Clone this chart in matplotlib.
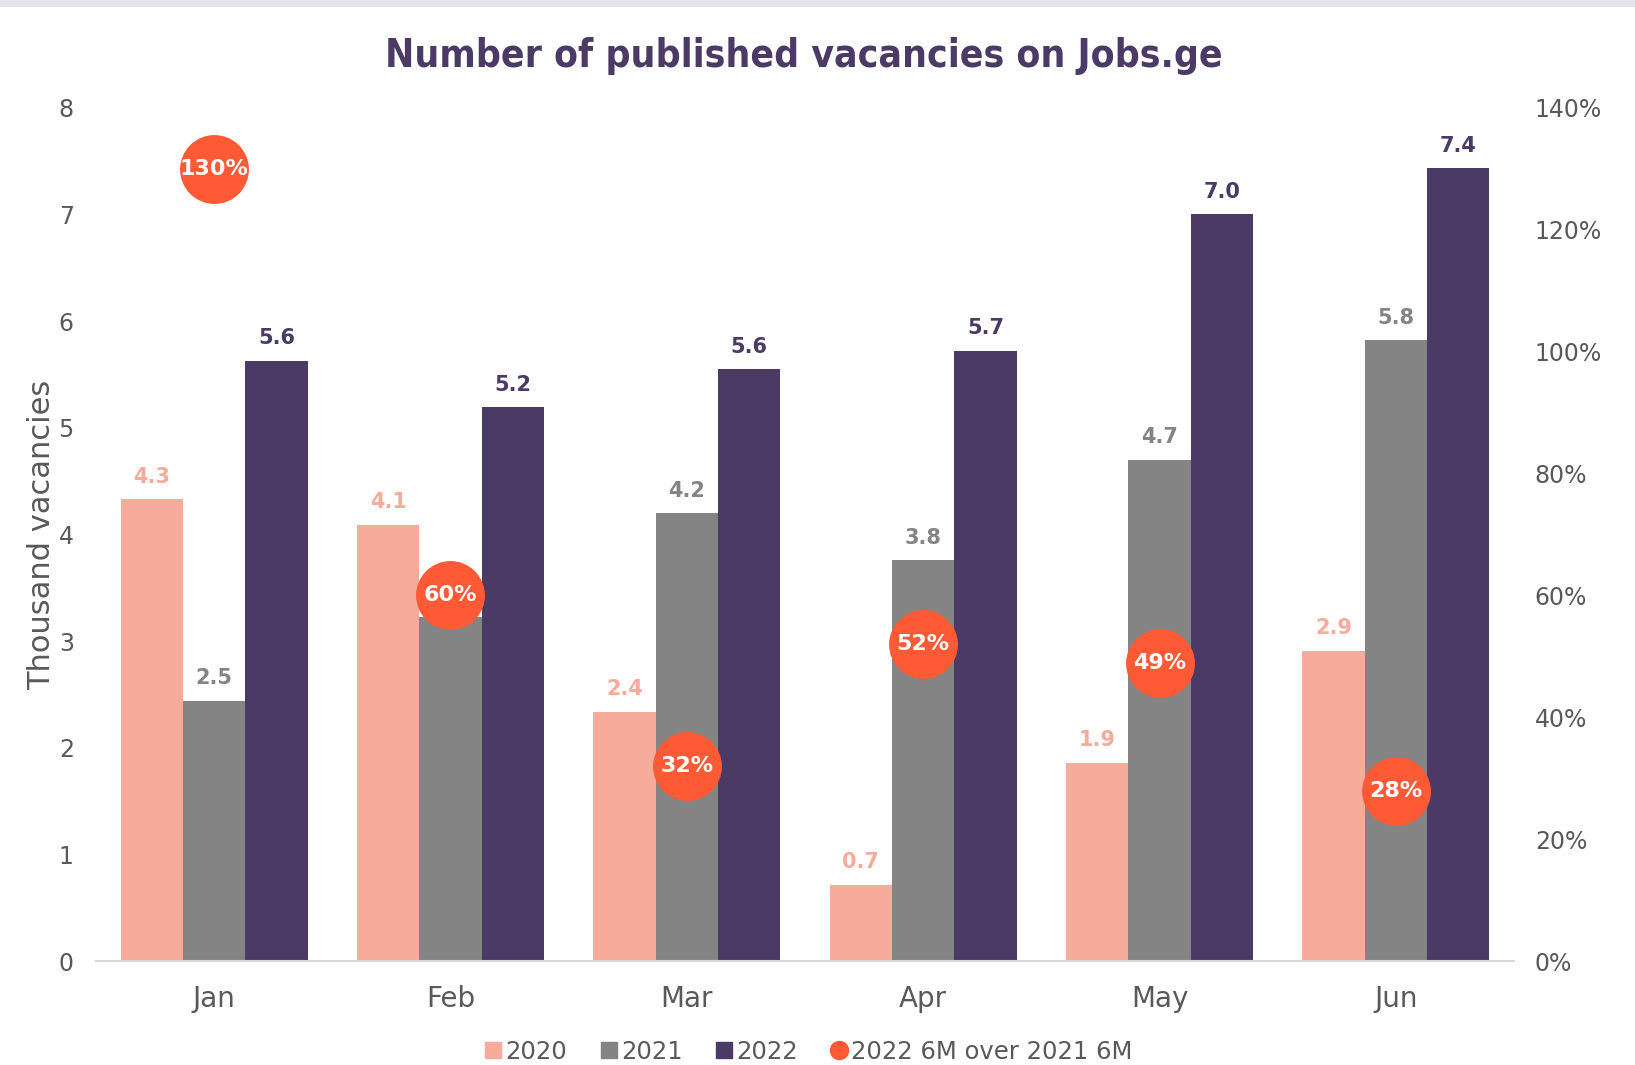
import matplotlib
matplotlib.use("Agg")
import matplotlib.pyplot as plt
import numpy as np
from matplotlib.patches import Rectangle
from matplotlib.lines import Line2D

months = ["Jan", "Feb", "Mar", "Apr", "May", "Jun"]
v2020 = [4.3, 4.1, 2.4, 0.7, 1.9, 2.9]
v2021 = [2.5, 3.2, 4.2, 3.8, 4.7, 5.8]
v2022 = [5.6, 5.2, 5.6, 5.7, 7.0, 7.4]
h2020 = [4.33, 4.09, 2.34, 0.72, 1.86, 2.91]
h2021 = [2.44, 3.23, 4.20, 3.76, 4.70, 5.82]
h2022 = [5.63, 5.19, 5.55, 5.72, 7.00, 7.43]
growth = [130, 60, 32, 52, 49, 28]
# labels hidden behind a circle in the original (Feb 2021)
hidden = {("2021", 1)}

c2020 = "#F7AB9A"
c2021 = "#848484"
c2022 = "#4B3A66"
cdot = "#FF5A36"
ctext = "#595959"

fig = plt.figure(figsize=(16.35, 10.65), dpi=100)
fig.patches.append(Rectangle((0, 1 - 6 / 1065), 1, 6 / 1065, transform=fig.transFigure,
                             color="#E4E2EC", zorder=0))
ax = fig.add_axes([0.0587, 0.0973, 0.8673, 0.8017])
ax2 = ax.twinx()

x = np.arange(len(months))
w = 0.264
series = [(h2020, v2020, c2020, "2020", -w), (h2021, v2021, c2021, "2021", 0), (h2022, v2022, c2022, "2022", w)]
for h, v, c, lab, off in series:
    ax.bar(x + off, h, width=w, color=c, label=lab, zorder=2)
    for i, (xi, hi, vi) in enumerate(zip(x + off, h, v)):
        if (lab, i) in hidden:
            continue
        ax.annotate(f"{vi:.1f}", (xi, hi), xytext=(0, 9), textcoords="offset points",
                    ha="center", va="bottom", fontsize=15, fontweight="bold", color=c, zorder=3)

ax.set_ylim(0, 8)
ax.set_xlim(-0.5, 5.5)
ax.set_xticks(x)
ax.set_xticklabels(months, fontsize=20, color=ctext)
ax.set_yticks(range(0, 9))
ax.tick_params(axis="y", labelsize=17, labelcolor=ctext, length=0, pad=16)
ax.tick_params(axis="x", length=0, pad=17)
ax.set_ylabel("Thousand vacancies", fontsize=22, color=ctext, labelpad=2)
for s in ["top", "right", "left"]:
    ax.spines[s].set_visible(False)
ax.spines["bottom"].set_color("#D9D9D9")
ax.spines["bottom"].set_linewidth(1.5)

ax2.set_ylim(0, 140)
ax2.set_yticks(range(0, 141, 20))
ax2.set_yticklabels([f"{t}%" for t in range(0, 141, 20)])
ax2.tick_params(axis="y", labelsize=17, labelcolor=ctext, length=0, pad=15)
for s in ["top", "right", "left", "bottom"]:
    ax2.spines[s].set_visible(False)
ax2.scatter(x, growth, s=2460, color=cdot, zorder=5, label="2022 6M over 2021 6M", linewidths=0)
for xi, g in zip(x, growth):
    ax2.text(xi, g, f"{g}%", ha="center", va="center", fontsize=16, fontweight="bold",
             color="white", zorder=6)
ax.set_zorder(1)
ax.patch.set_visible(False)
ax2.set_zorder(2)

handles = [Line2D([], [], marker="s", linestyle="", color=c2020, markersize=11),
           Line2D([], [], marker="s", linestyle="", color=c2021, markersize=11),
           Line2D([], [], marker="s", linestyle="", color=c2022, markersize=11),
           Line2D([], [], marker="o", linestyle="", color=cdot, markersize=13)]
leg = fig.legend(handles, ["2020", "2021", "2022", "2022 6M over 2021 6M"], loc="center",
                 bbox_to_anchor=(0.4935, 0.0125), ncol=4, frameon=False, fontsize=17.5,
                 handletextpad=0.0, columnspacing=1.2, handlelength=1.0)
for t in leg.get_texts():
    t.set_color(ctext)

fig.text(0.4917, 0.947, "Number of published vacancies on Jobs.ge", ha="center", va="center",
         fontsize=28, fontweight="bold", color=c2022, fontstretch="condensed",
         family=["DejaVu Sans"])

fig.savefig("out.png", dpi=100)
